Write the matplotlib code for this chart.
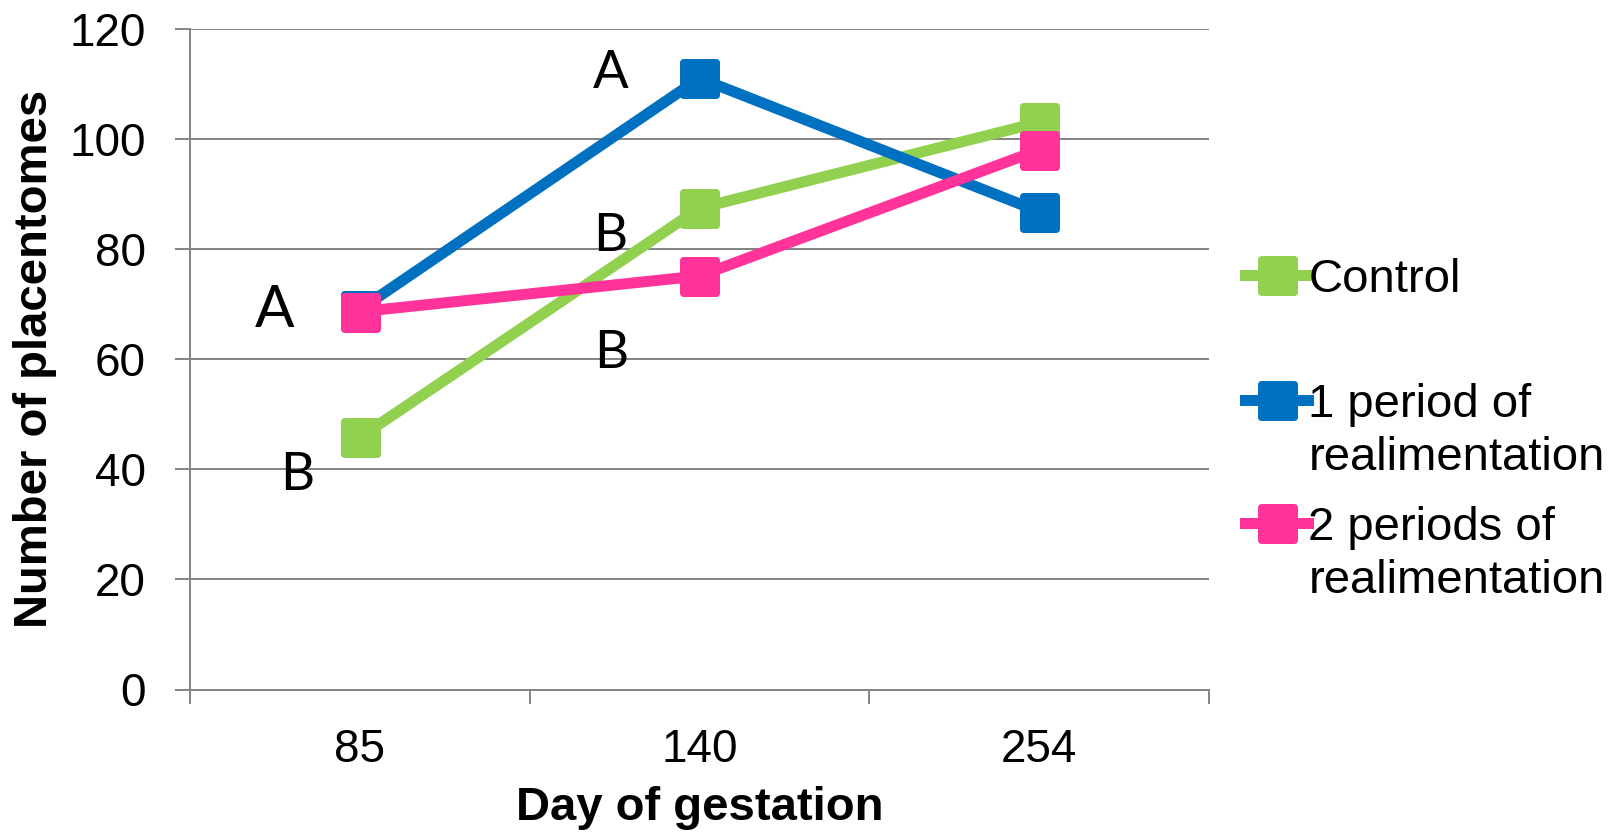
import matplotlib
matplotlib.use("Agg")
import matplotlib.pyplot as plt
from matplotlib.markers import MarkerStyle

# ---- data ----
days = ["85", "140", "254"]
control = [45.8, 87.4, 103.0]
one_period = [69.0, 111.0, 86.8]
two_periods = [68.6, 75.1, 98.0]
series_names = ["Control", "1 period of\nrealimentation", "2 periods of\nrealimentation"]
colors = ["#92D050", "#0070C0", "#FF3399"]
yticks = [0, 20, 40, 60, 80, 100, 120]

# significance letters: (text, x-position in category units, y-value baseline, size)
letters = ["A", "B", "A", "B", "B"]
letter_x = [-0.252, -0.184, 0.738, 0.738, 0.741]
letter_y = [65.8, 36.2, 109.3, 79.7, 58.4]
letter_size = [42, 38, 38, 38, 38]

DPI = 100
fig = plt.figure(figsize=(16.24, 8.35), dpi=DPI)
W, H = 1624, 835
ax = fig.add_axes([190 / W, 1 - 689.5 / H, (1209 - 190) / W, (689.5 - 28.7) / H])

px = 72.0 / DPI  # points per pixel
grid_c = "#868686"
font = "Liberation Sans"

x = list(range(len(days)))
lines = []
for vals, c, name in zip([control, one_period, two_periods], colors, series_names):
    ms = MarkerStyle("s", joinstyle="round")
    ln, = ax.plot(x, vals, color=c, lw=11 * px, marker=ms, markersize=33 * px,
                  markeredgewidth=7 * px, markerfacecolor=c, markeredgecolor=c,
                  solid_joinstyle="round", label=name, zorder=3)
    lines.append(ln)

ax.set_xlim(-0.5, 2.5)
ax.set_ylim(0, 120)
ax.set_yticks(yticks)
ax.set_yticklabels([str(v) for v in yticks], fontsize=33, family=font)
ax.yaxis.grid(True, color=grid_c, lw=2 * px)
ax.set_axisbelow(True)

# x: major ticks at category boundaries, labels at centers (minor)
ax.set_xticks([-0.5, 0.5, 1.5, 2.5])
ax.set_xticklabels([])
ax.set_xticks(x, minor=True)
ax.set_xticklabels(days, minor=True, fontsize=33, family=font)
ax.tick_params(axis="x", which="major", length=14 * px, width=2 * px, color=grid_c)
ax.tick_params(axis="x", which="minor", length=0, pad=38 * px)
ax.tick_params(axis="y", length=15 * px, width=2 * px, color=grid_c, pad=29 * px)

for s in ["top", "right"]:
    ax.spines[s].set_visible(False)
for s in ["left", "bottom"]:
    ax.spines[s].set_color(grid_c)
    ax.spines[s].set_linewidth(2 * px)

ax.set_xlabel("Day of gestation", fontsize=34, fontweight="bold", family=font, labelpad=14 * px)
ax.set_ylabel("Number of placentomes", fontsize=34, fontweight="bold", family=font, labelpad=12 * px)

for t, lx, ly, sz in zip(letters, letter_x, letter_y, letter_size):
    ax.text(lx, ly, t, fontsize=sz, family="Lato", ha="center", va="baseline", zorder=4)

# legend: one legend per entry to match spacing, handle aligned with first line
legend_tops = [258, 383, 506]
for ln, top in zip(lines, legend_tops):
    leg = fig.legend(handles=[ln], labels=[ln.get_label()], loc="upper left",
                     bbox_to_anchor=(1245 / W, 1 - top / H), bbox_transform=fig.transFigure,
                     frameon=False, borderpad=0, borderaxespad=0, handletextpad=0,
                     handlelength=63 / 47.0, handleheight=0.75,
                     prop={"family": font, "size": 34})
    for t in leg.get_texts():
        t.set_linespacing(1.27)
    try:
        for col in leg._legend_handle_box.get_children():
            for item in col.get_children():
                item.align = "top"
    except Exception:
        pass

fig.savefig("out.png", dpi=DPI)
